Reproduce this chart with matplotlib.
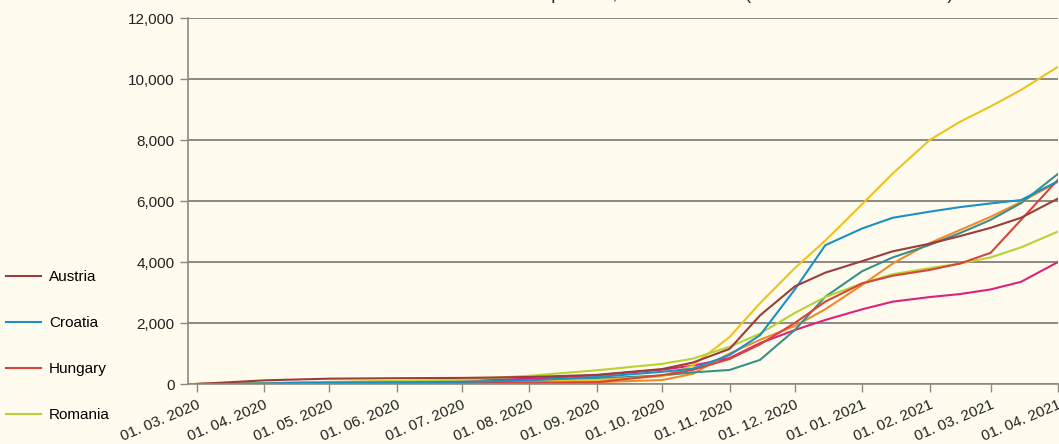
import pandas
from matplotlib import pyplot as plt
from matplotlib import dates as mdates
from matplotlib.ticker import FuncFormatter

plt.rcParams['font.family'] = ['Liberation Sans Narrow', 'Liberation Sans', 'DejaVu Sans']

bg = '#fffcef'
gridColor = '#8c8a80'

# sample dates
dates = pandas.to_datetime(['2020-03-01', '2020-04-01', '2020-05-01', '2020-06-01', '2020-07-01',
                            '2020-08-01', '2020-09-01', '2020-10-01', '2020-10-15', '2020-11-01',
                            '2020-11-15', '2020-12-01', '2020-12-15', '2021-01-01', '2021-01-15',
                            '2021-02-01', '2021-02-15', '2021-03-01', '2021-03-15', '2021-04-01'])

# cumulative cases per 100,000
austria = [0, 120, 175, 190, 200, 230, 300, 490, 700, 1150, 2250, 3200, 3650, 4030, 4350, 4600, 4850, 5120, 5450, 6080]
croatia = [0, 20, 50, 55, 70, 120, 230, 400, 500, 950, 1600, 3100, 4550, 5100, 5450, 5650, 5800, 5920, 6030, 6650]
hungary = [0, 5, 30, 40, 42, 45, 60, 290, 460, 820, 1300, 2000, 2700, 3300, 3550, 3740, 3950, 4300, 5380, 6700]
romania = [0, 15, 70, 100, 140, 270, 450, 660, 830, 1220, 1650, 2330, 2850, 3300, 3600, 3800, 3950, 4150, 4480, 5000]
yellowSeries = [0, 40, 65, 70, 80, 100, 130, 250, 600, 1540, 2650, 3800, 4700, 5900, 6900, 8000, 8600, 9100, 9640, 10400]
orangeSeries = [0, 5, 15, 20, 25, 35, 60, 130, 330, 1000, 1450, 1900, 2450, 3250, 3950, 4620, 5050, 5480, 5970, 6630]
tealSeries = [0, 10, 40, 50, 60, 100, 180, 280, 380, 460, 790, 1770, 2860, 3700, 4150, 4560, 4950, 5380, 5930, 6890]
magentaSeries = [0, 20, 60, 80, 110, 170, 290, 470, 600, 850, 1340, 1770, 2100, 2450, 2700, 2850, 2950, 3100, 3350, 4000]

fig = plt.figure(figsize=(10.59, 4.44), dpi=100, facecolor=bg)
ax = fig.add_axes([188 / 1059, 1 - 384 / 444, 870 / 1059, 366 / 444])
ax.set_facecolor(bg)

# lines without legend entry first
ax.plot(dates, magentaSeries, color='#e0207a', linewidth=1.5)
ax.plot(dates, orangeSeries, color='#ef8a2a', linewidth=1.5)
ax.plot(dates, tealSeries, color='#3a8f88', linewidth=1.5)
ax.plot(dates, yellowSeries, color='#eec21c', linewidth=1.5)

lRom, = ax.plot(dates, romania, color='#b6d336', linewidth=1.5, label='Romania')
lHun, = ax.plot(dates, hungary, color='#d8443a', linewidth=1.5, label='Hungary')
lCro, = ax.plot(dates, croatia, color='#1a90c4', linewidth=1.5, label='Croatia')
lAut, = ax.plot(dates, austria, color='#9c3d3a', linewidth=1.5, label='Austria')

ax.set_ylim(0, 12000)
ax.set_xlim(pandas.Timestamp('2020-02-26'), pandas.Timestamp('2021-04-01'))
ax.set_yticks(range(0, 12001, 2000))
ax.yaxis.set_major_formatter(FuncFormatter(lambda v, p: '{:,.0f}'.format(v)))
ax.yaxis.grid(True, color=gridColor, linewidth=1.4)
ax.set_axisbelow(True)

ax.xaxis.set_major_locator(mdates.MonthLocator())
ax.xaxis.set_major_formatter(mdates.DateFormatter('%d. %m. %Y'))
for lab in ax.get_xticklabels():
    lab.set_rotation(23)
    lab.set_ha('right')
    lab.set_va('top')
    lab.set_rotation_mode('anchor')

for side in ['top', 'right']:
    ax.spines[side].set_visible(False)
for side in ['left', 'bottom']:
    ax.spines[side].set_color(gridColor)
    ax.spines[side].set_linewidth(1.2)
ax.tick_params(axis='both', colors=gridColor, labelcolor='#222222', labelsize=11, length=6, width=1)
ax.tick_params(axis='x', pad=4)

fig.legend(handles=[lAut, lCro, lHun, lRom], loc='upper left', bbox_to_anchor=(0.0, 1 - 264 / 444),
           frameon=False, fontsize=11, handlelength=2.3, handletextpad=0.5, labelspacing=2.1,
           borderaxespad=0.0, borderpad=0.4)

# title is mostly outside the picture, as in the reference
fig.text(0.585, 1 + 1 / 444, 'Total number of confirmed cases per 100,000 inhabitants (01.03.2020 - 01.04.2021)',
         ha='center', va='baseline', fontsize=13, color='#222222')

fig.savefig('out.png', dpi=100, facecolor=bg)
